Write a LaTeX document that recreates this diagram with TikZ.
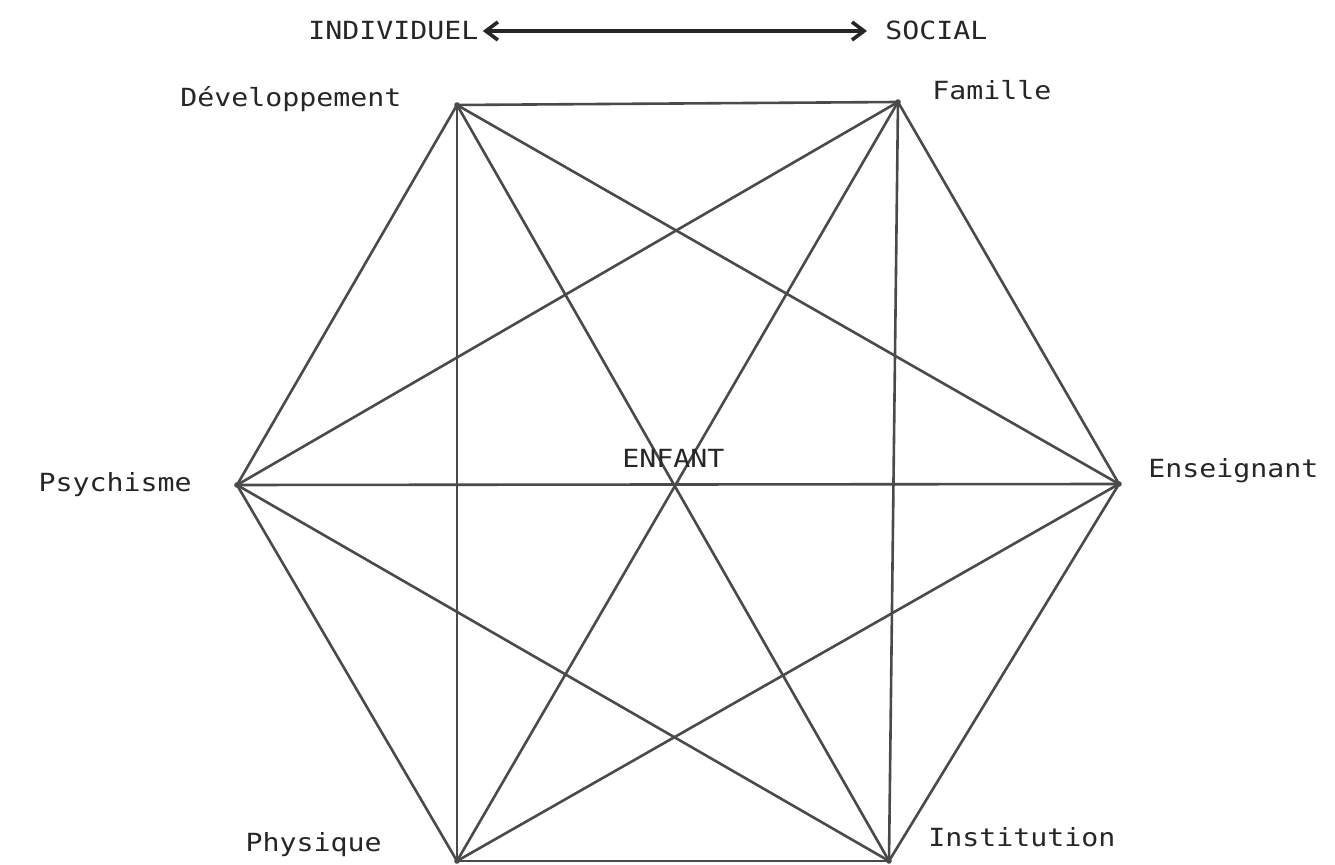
\documentclass[tikz,border=0pt]{standalone}
\usepackage{fontspec}
\newfontfamily\plotfont[FakeStretch=1.13]{DejaVu Sans Mono}
\usetikzlibrary{arrows.meta}
\definecolor{edgegray}{HTML}{4A4A4A}
\definecolor{inkgray}{HTML}{262626}
\tikzset{
  edge/.style={draw=edgegray, line width=1.3pt},
  lbl/.style={inner sep=0pt, text=inkgray, font=\plotfont\fontsize{12.5pt}{14pt}\selectfont},
  vdot/.style={circle, fill=edgegray, inner sep=0pt, minimum size=2.8pt},
}
\begin{document}
\begin{tikzpicture}[x=0.5pt,y=-0.5pt]
\useasboundingbox (0,0) rectangle (1335,865);
% vertices
\coordinate (D) at (457,105);
\coordinate (F) at (898,102);
\coordinate (E) at (1119,484);
\coordinate (I) at (889,861);
\coordinate (P) at (457,861);
\coordinate (S) at (237,485);
% complete graph
\foreach \a/\b in {D/F,D/E,D/I,D/P,D/S,F/E,F/I,F/P,F/S,E/I,E/P,E/S,I/P,I/S,P/S}
  \draw[edge, line cap=round] (\a) -- (\b);
\foreach \v in {D,F,E,I,P,S}
  \node[vdot] at (\v) {};
% labels
\node[lbl, anchor=base west] (indiv) at (308,40) {INDIVIDUEL};
\node[lbl, anchor=base west] (social) at (885,40) {SOCIAL};
\draw[draw=inkgray, line width=1.6pt, {Straight Barb[length=6pt,width=9pt,line width=1.8pt]}-{Straight Barb[length=6pt,width=9pt,line width=1.8pt]}, shorten <=2pt, shorten >=9pt]
  (indiv.east |- 0,31) -- (social.west |- 0,31);
\node[lbl, anchor=base west] (ldev) at (180,107) {Développement};
\node[lbl, anchor=base west] (lfam) at (932,100) {Famille};
\node[lbl, anchor=base east] (lpsy) at (192,492) {Psychisme};
\node[lbl, anchor=base west] (lens) at (1148,478) {Enseignant};
\node[lbl, anchor=base east] (lphy) at (382,852) {Physique};
\node[lbl, anchor=base west] (lins) at (928,847) {Institution};
\node[lbl, anchor=base west] (lenf) at (622,468) {ENFANT};
\end{tikzpicture}
\end{document}
